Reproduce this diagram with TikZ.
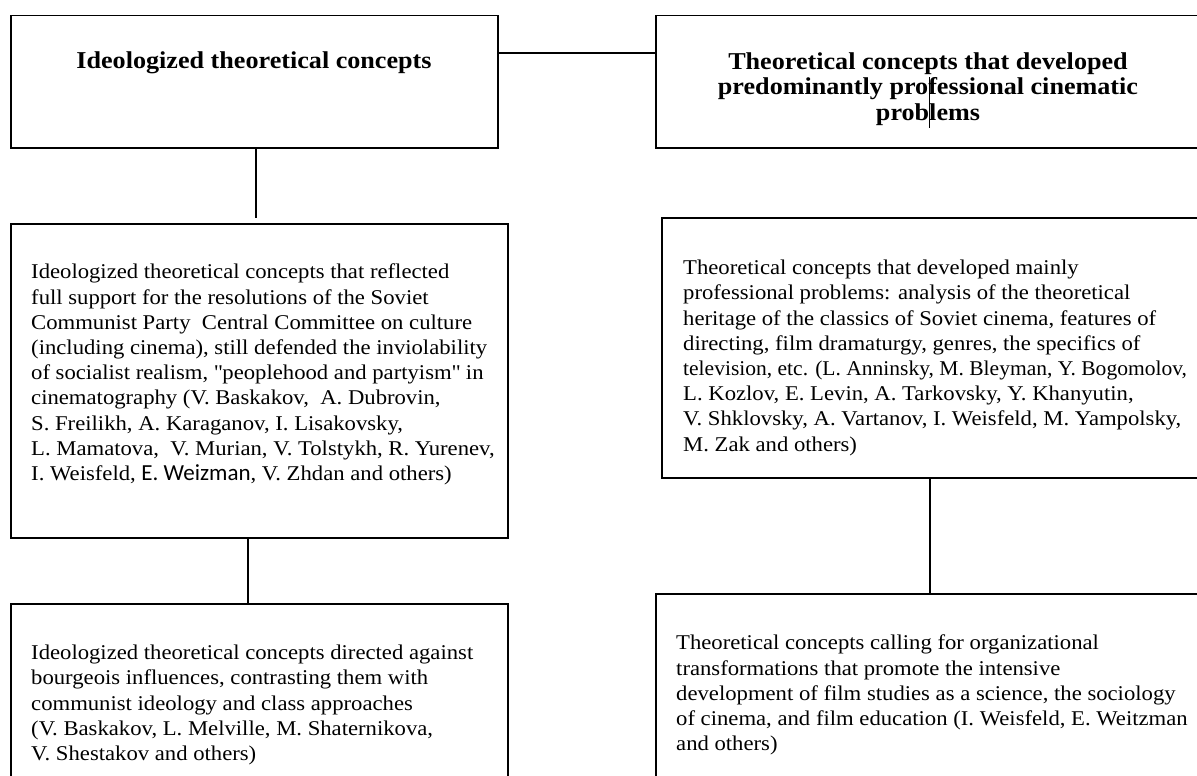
\documentclass[tikz,border=0pt]{standalone}
\usepackage{fontspec}
\setmainfont{Liberation Serif}[FakeStretch=1.08]
\newfontfamily\wzfont{Carlito}
\newfontfamily\narrowfont{Liberation Serif}[FakeStretch=1.025]
\begin{document}
\begin{tikzpicture}[x=1pt,y=-1pt,
  box/.style={draw=black,line width=1.5pt,rectangle,inner sep=0pt,anchor=north west},
  conn/.style={draw=black,line width=1.5pt},
  body/.style={inner sep=0pt,anchor=north west,align=left,font=\fontsize{21}{25.2}\selectfont},
  title/.style={inner sep=0pt,align=center,font=\fontsize{24.2}{25.5}\selectfont\bfseries}]
\useasboundingbox (0,0) rectangle (1197,776);
% boxes
\node[box,minimum width=487pt,minimum height=132pt] (A) at (10,15) {};
\node[box,minimum width=545pt,minimum height=132pt] (B) at (655,15) {};
\node[box,minimum width=497pt,minimum height=314pt] (C) at (10,223) {};
\node[box,minimum width=539pt,minimum height=260pt] (D) at (661,217) {};
\node[box,minimum width=497pt,minimum height=200pt] (E) at (10,603) {};
\node[box,minimum width=545pt,minimum height=210pt] (F) at (655,593) {};
% titles
\node[title] (At) at (254,63) {Ideologized theoretical concepts};
\node[title] (Bt) at (928,89) {Theoretical concepts that developed\\predominantly professional cinematic\\problems};
% body texts
\node[body] (Ct) at (31,264) {Ideologized theoretical concepts that reflected\\
full support for the resolutions of the Soviet\\
Communist Party\ \ Central Committee on culture\\
(including cinema), still defended the inviolability\\
of socialist realism, \textquotedbl peoplehood and partyism\textquotedbl{} in\\
cinematography (V. Baskakov,\ \ A. Dubrovin,\\
S. Freilikh, A. Karaganov, I. Lisakovsky,\\
L. Mamatova,\ \ V. Murian, V. Tolstykh, R. Yurenev,\\
I. Weisfeld, {\wzfont\fontsize{23}{25.2}\selectfont E. Weizman}, V. Zhdan and others)};
\node[body] (Dt) at (683,260) {Theoretical concepts that developed mainly\\
professional problems: analysis of the theoretical\\
heritage of the classics of Soviet cinema, features of\\
directing, film dramaturgy, genres, the specifics of\\
{\narrowfont television, etc. (L. Anninsky, M. Bleyman, Y. Bogomolov,}\\
L. Kozlov, E. Levin, A. Tarkovsky, Y. Khanyutin,\\
V. Shklovsky, A. Vartanov, I. Weisfeld, M. Yampolsky,\\
M. Zak and others)};
\node[body] (Et) at (31,645) {Ideologized theoretical concepts directed against\\
bourgeois influences, contrasting them with\\
communist ideology and class approaches\\
(V. Baskakov, L. Melville, M. Shaternikova,\\
V. Shestakov and others)};
\node[body] (Ft) at (676,635) {Theoretical concepts calling for organizational\\
transformations that promote the intensive\\
development of film studies as a science, the sociology\\
of cinema, and film education (I. Weisfeld, E. Weitzman\\
and others)};
% connectors
\draw[conn] ([yshift=-38pt]A.north east) -- ([yshift=-38pt]B.north west);
\coordinate (Cin) at (256,218);
\draw[conn] (A.south west -| Cin) -- (Cin);
\draw[conn] (C.south west -| 248,0) -- (E.north west -| 248,0);
\draw[conn] (D.south west -| 930,0) -- (F.north west -| 930,0);
\coordinate (s1) at (929,77);
\coordinate (s2) at (929,128);
\draw[black,line width=1pt] (s1) -- (s2);
\end{tikzpicture}
\end{document}
